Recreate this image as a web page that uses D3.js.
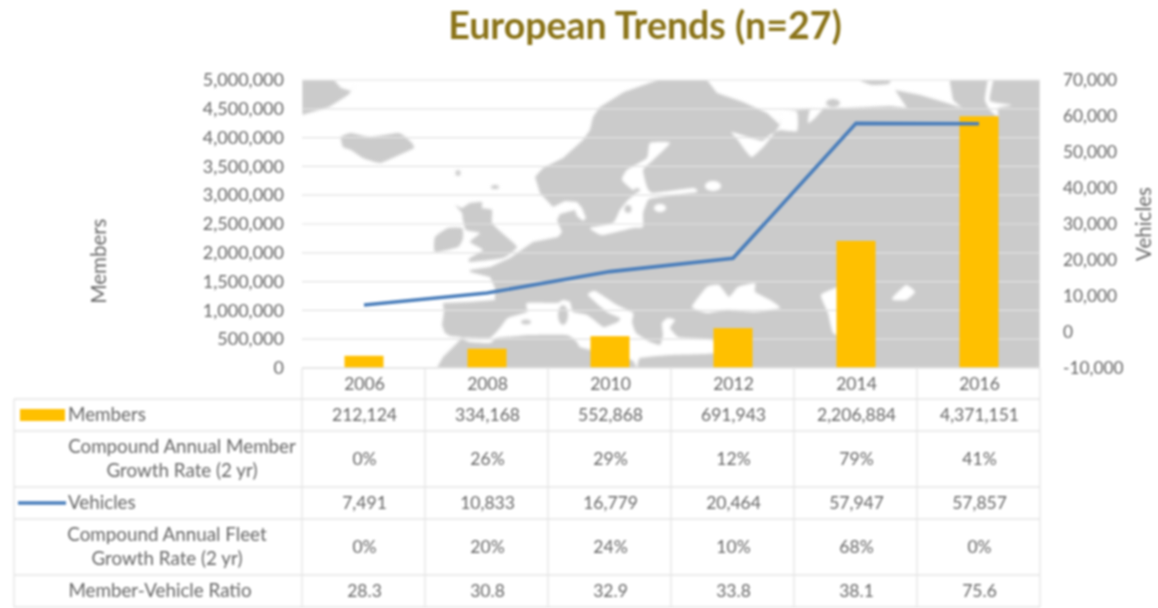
<!DOCTYPE html>
<html><head><meta charset="utf-8">
<script src="https://cdn.jsdelivr.net/npm/d3@7/dist/d3.min.js"></script>
<style>
html,body{margin:0;padding:0;background:#fff;overflow:hidden}
svg{display:block;filter:blur(0.9px)}
text{font-family:Lato,"Open Sans",sans-serif}
</style></head><body>
<svg id="c" width="1158" height="608"></svg>
<script>
const titleText = "European Trends (n=27)";
const years = ["2006","2008","2010","2012","2014","2016"];
const members = [212124,334168,552868,691943,2206884,4371151];
const vehicles = [7491,10833,16779,20464,57947,57857];
const memberGrowth = ["0%","26%","29%","12%","79%","41%"];
const fleetGrowth = ["0%","20%","24%","10%","68%","0%"];
const ratio = ["28.3","30.8","32.9","33.8","38.1","75.6"];
const membersTicks = d3.range(0,5000001,500000);
const vehiclesTicks = d3.range(-10000,70001,10000);

// Decorative background map outlines (page coordinates)
const landShapes = [
 [[302,80],[334,80],[341,88],[351,91],[360,80],[348,95],[329,107],[302,115]],
 [[341,137],[351,133],[370,137],[399,133],[411,142],[414,148],[399,155],[380,163],[363,158],[351,150],[343,147]],
 [[455,205],[462,208],[470,203],[482,202],[482,208],[492,210],[492,223],[502,233],[517,247],[503,258],[470,262],[470,258],[483,250],[470,242],[480,233],[466,230],[463,220],[462,213]],
 [[435,237],[448,228],[462,228],[463,238],[458,247],[435,252]],
 [[860,80],[890,80],[888,84],[872,85]],
 [[437,368],[443,357],[458,342],[462,337],[450,336],[445,333],[442,325],[444,312],[443,303],[470,302],[495,300],[495,288],[490,277],[470,272],[470,270],[490,267],[510,258],[533,242],[558,237],[562,232],[557,220],[560,214],[575,210],[577,216],[583,221],[586,218],[582,208],[577,202],[565,201],[553,207],[540,193],[536,180],[535,177],[543,168],[563,158],[583,140],[590,130],[593,117],[600,107],[624,92],[658,80],[707,80],[717,93],[743,102],[767,113],[780,125],[782,111],[823,108],[847,108],[890,106],[907,108],[895,90],[920,95],[947,103],[962,108],[953,100],[950,83],[950,80],[1040,80],[1040,368]]
];
const seaShapes = [
 [[731,132],[745,136],[762,141],[770,135],[780,130],[797,131],[797,112],[782,111],[780,125],[765,145],[752,157],[745,150],[738,140]],
 [[808,123],[815,118],[823,108],[810,110]],
 [[993,80],[990,101],[1012,105],[998,108],[998,117],[990,110],[985,100],[988,80]],
 [[650,143],[670,143],[653,160],[643,170],[647,187],[653,193],[693,188],[697,192],[673,195],[653,198],[648,200],[643,213],[643,227],[633,228],[602,235],[590,228],[613,223],[620,210],[628,200],[640,190],[633,190],[622,180],[627,170],[647,158]],
 [[462,338],[472,338],[490,338],[500,328],[508,318],[527,312],[527,303],[557,303],[563,300],[570,302],[573,312],[587,315],[603,327],[608,326],[618,322],[620,318],[607,312],[588,295],[595,291],[617,305],[633,313],[632,322],[636,333],[650,342],[660,345],[663,335],[662,323],[668,318],[675,320],[670,328],[678,337],[687,338],[713,340],[716,353],[670,355],[640,358],[637,368],[632,360],[600,352],[580,347],[577,342],[567,335],[530,335],[497,338],[490,343],[470,342]],
 [[692,307],[707,287],[719,285],[729,297],[738,287],[755,283],[755,292],[770,300],[780,308],[755,312],[726,310],[707,313]],
 [[821,295],[838,287],[845,290],[845,335],[833,333],[828,313]],
 [[893,297],[906,285],[915,292],[906,300],[893,300]]
];
const seaBlobs = [[713,186,8,5],[660,208,6,4]];
const landBlobs = [[628,209,3.5,4],[637,190,3,2],[563,315,5,10],[526,322,5,2.5],[458,173,2.5,3],[495,187,4,2],[833,103,7,4]];

const W=1158, plot={l:302,r:1040,t:80,b:368};
const grey="#666";
const svg=d3.select("#c");
svg.append("defs").append("filter").attr("id","soft").attr("x","-5%").attr("y","-5%").attr("width","110%").attr("height","110%")
  .append("feGaussianBlur").attr("stdDeviation",0.9);
svg.append("defs").append("clipPath").attr("id","plotClip").append("rect")
  .attr("x",plot.l).attr("y",plot.t).attr("width",plot.r-plot.l).attr("height",plot.b-plot.t);

svg.append("text").attr("x",645).attr("y",39).attr("text-anchor","middle")
  .attr("font-size",37.5).attr("font-weight",700).attr("fill","#8a7318").text(titleText);

const outline=d3.line().curve(d3.curveCardinalClosed.tension(0.55));
const straight=d3.line();
const mapClip=svg.append("g").attr("clip-path","url(#plotClip)");
const gMap=mapClip.append("g").attr("filter","url(#soft)");
gMap.selectAll("path.land").data(landShapes).join("path").attr("class","land")
  .attr("d",(d,i)=>i===landShapes.length-1||i===0?straight(d)+"Z":outline(d)).attr("fill","#cbcbcb");
gMap.selectAll("path.sea").data(seaShapes).join("path").attr("class","sea")
  .attr("d",d=>outline(d)).attr("fill","#fff");
gMap.selectAll("ellipse.sea").data(seaBlobs).join("ellipse").attr("class","sea")
  .attr("cx",d=>d[0]).attr("cy",d=>d[1]).attr("rx",d=>d[2]).attr("ry",d=>d[3]).attr("fill","#fff");
gMap.selectAll("ellipse.land").data(landBlobs).join("ellipse").attr("class","land")
  .attr("cx",d=>d[0]).attr("cy",d=>d[1]).attr("rx",d=>d[2]).attr("ry",d=>d[3]).attr("fill","#cbcbcb");

const x=d3.scaleBand().domain(years).range([plot.l,plot.r]);
const yL=d3.scaleLinear().domain([0,5000000]).range([plot.b,plot.t]);
const yR=d3.scaleLinear().domain([-10000,70000]).range([plot.b,plot.t]);

svg.append("g").selectAll("line").data(membersTicks).join("line")
  .attr("x1",plot.l).attr("x2",plot.r).attr("y1",d=>yL(d)).attr("y2",d=>yL(d))
  .attr("stroke","#e2e2e2").attr("stroke-width",1.2);

const barW=39;
svg.append("g").selectAll("rect").data(members).join("rect")
  .attr("x",(d,i)=>x(years[i])+x.bandwidth()/2-barW/2+0.5).attr("width",barW)
  .attr("y",d=>yL(d)).attr("height",d=>yL(0)-yL(d)).attr("fill","#ffc000");

svg.append("path").datum(vehicles)
  .attr("d",d3.line().x((d,i)=>x(years[i])+x.bandwidth()/2+0.5).y(d=>yR(d)))
  .attr("fill","none").attr("stroke","#4a7ebb").attr("stroke-width",3.6);

// axes
const fmt=d3.format(",");
const fmtHy=v=>fmt(v).replace("\u2212","-");
const axL=svg.append("g").attr("transform",`translate(${plot.l},0)`)
  .call(d3.axisLeft(yL).tickValues(membersTicks).tickFormat(fmt).tickSize(0).tickPadding(18));
const axR=svg.append("g").attr("transform",`translate(${plot.r},0)`)
  .call(d3.axisRight(yR).tickValues(vehiclesTicks).tickFormat(fmtHy).tickSize(0).tickPadding(23));
[axL,axR].forEach(a=>a.select(".domain").remove());
axL.selectAll("text").attr("font-size",18).attr("fill",grey).style("font-family","Lato");
axR.selectAll("text").attr("font-size",17.3).attr("fill",grey).style("font-family","Lato");

svg.append("text").attr("transform","translate(106,261) rotate(-90)").attr("text-anchor","middle")
  .attr("font-size",20.5).attr("fill",grey).text("Members");
svg.append("text").attr("transform","translate(1151,224) rotate(-90)").attr("text-anchor","middle")
  .attr("font-size",20.5).attr("fill",grey).text("Vehicles");

// data table
const rowEdges=[368,399,431,487,519,575,607];
const rows=[years,members.map(fmt),memberGrowth,vehicles.map(fmt),fleetGrowth,ratio];
const gridCol="#e5e5e5";
const gT=svg.append("g");
rowEdges.forEach((yy,i)=>{
  gT.append("line").attr("x1",i<1?plot.l:14).attr("x2",plot.r).attr("y1",yy).attr("y2",yy)
    .attr("stroke",gridCol).attr("stroke-width",1.4);
});
gT.selectAll("line.v").data(d3.range(7)).join("line").attr("class","v")
  .attr("x1",i=>plot.l+i*x.bandwidth()).attr("x2",i=>plot.l+i*x.bandwidth())
  .attr("y1",368).attr("y2",607).attr("stroke",gridCol).attr("stroke-width",1.4);
gT.append("line").attr("x1",14).attr("x2",14).attr("y1",399).attr("y2",607)
  .attr("stroke",gridCol).attr("stroke-width",1.4);

rows.forEach((r,ri)=>{
  const cy=(rowEdges[ri]+rowEdges[ri+1])/2;
  gT.append("g").selectAll("text").data(r).join("text")
    .attr("x",(d,i)=>x(years[i])+x.bandwidth()/2+1).attr("y",cy+6)
    .attr("text-anchor","middle").attr("font-size",17.5).attr("fill",grey).text(d=>d);
});

const labels=[
 {lines:["Members"],cx:null,ys:[421]},
 {lines:["Compound Annual Member","Growth Rate (2 yr)"],cx:182,ys:[453,477]},
 {lines:["Vehicles"],cx:null,ys:[509]},
 {lines:["Compound Annual Fleet","Growth Rate (2 yr)"],cx:167,ys:[541,565]},
 {lines:["Member-Vehicle Ratio"],cx:160,ys:[597]}
];
labels.forEach(l=>l.lines.forEach((t,i)=>{
  gT.append("text").attr("x",l.cx??68).attr("y",l.ys[i])
    .attr("text-anchor",l.cx?"middle":"start").attr("font-size",18.8).attr("fill",grey).text(t);
}));
gT.append("rect").attr("x",20).attr("y",409).attr("width",45).attr("height",12).attr("fill","#ffc000");
gT.append("line").attr("x1",18).attr("x2",66).attr("y1",503).attr("y2",503)
  .attr("stroke","#4a7ebb").attr("stroke-width",3.4);
</script>
</body></html>
